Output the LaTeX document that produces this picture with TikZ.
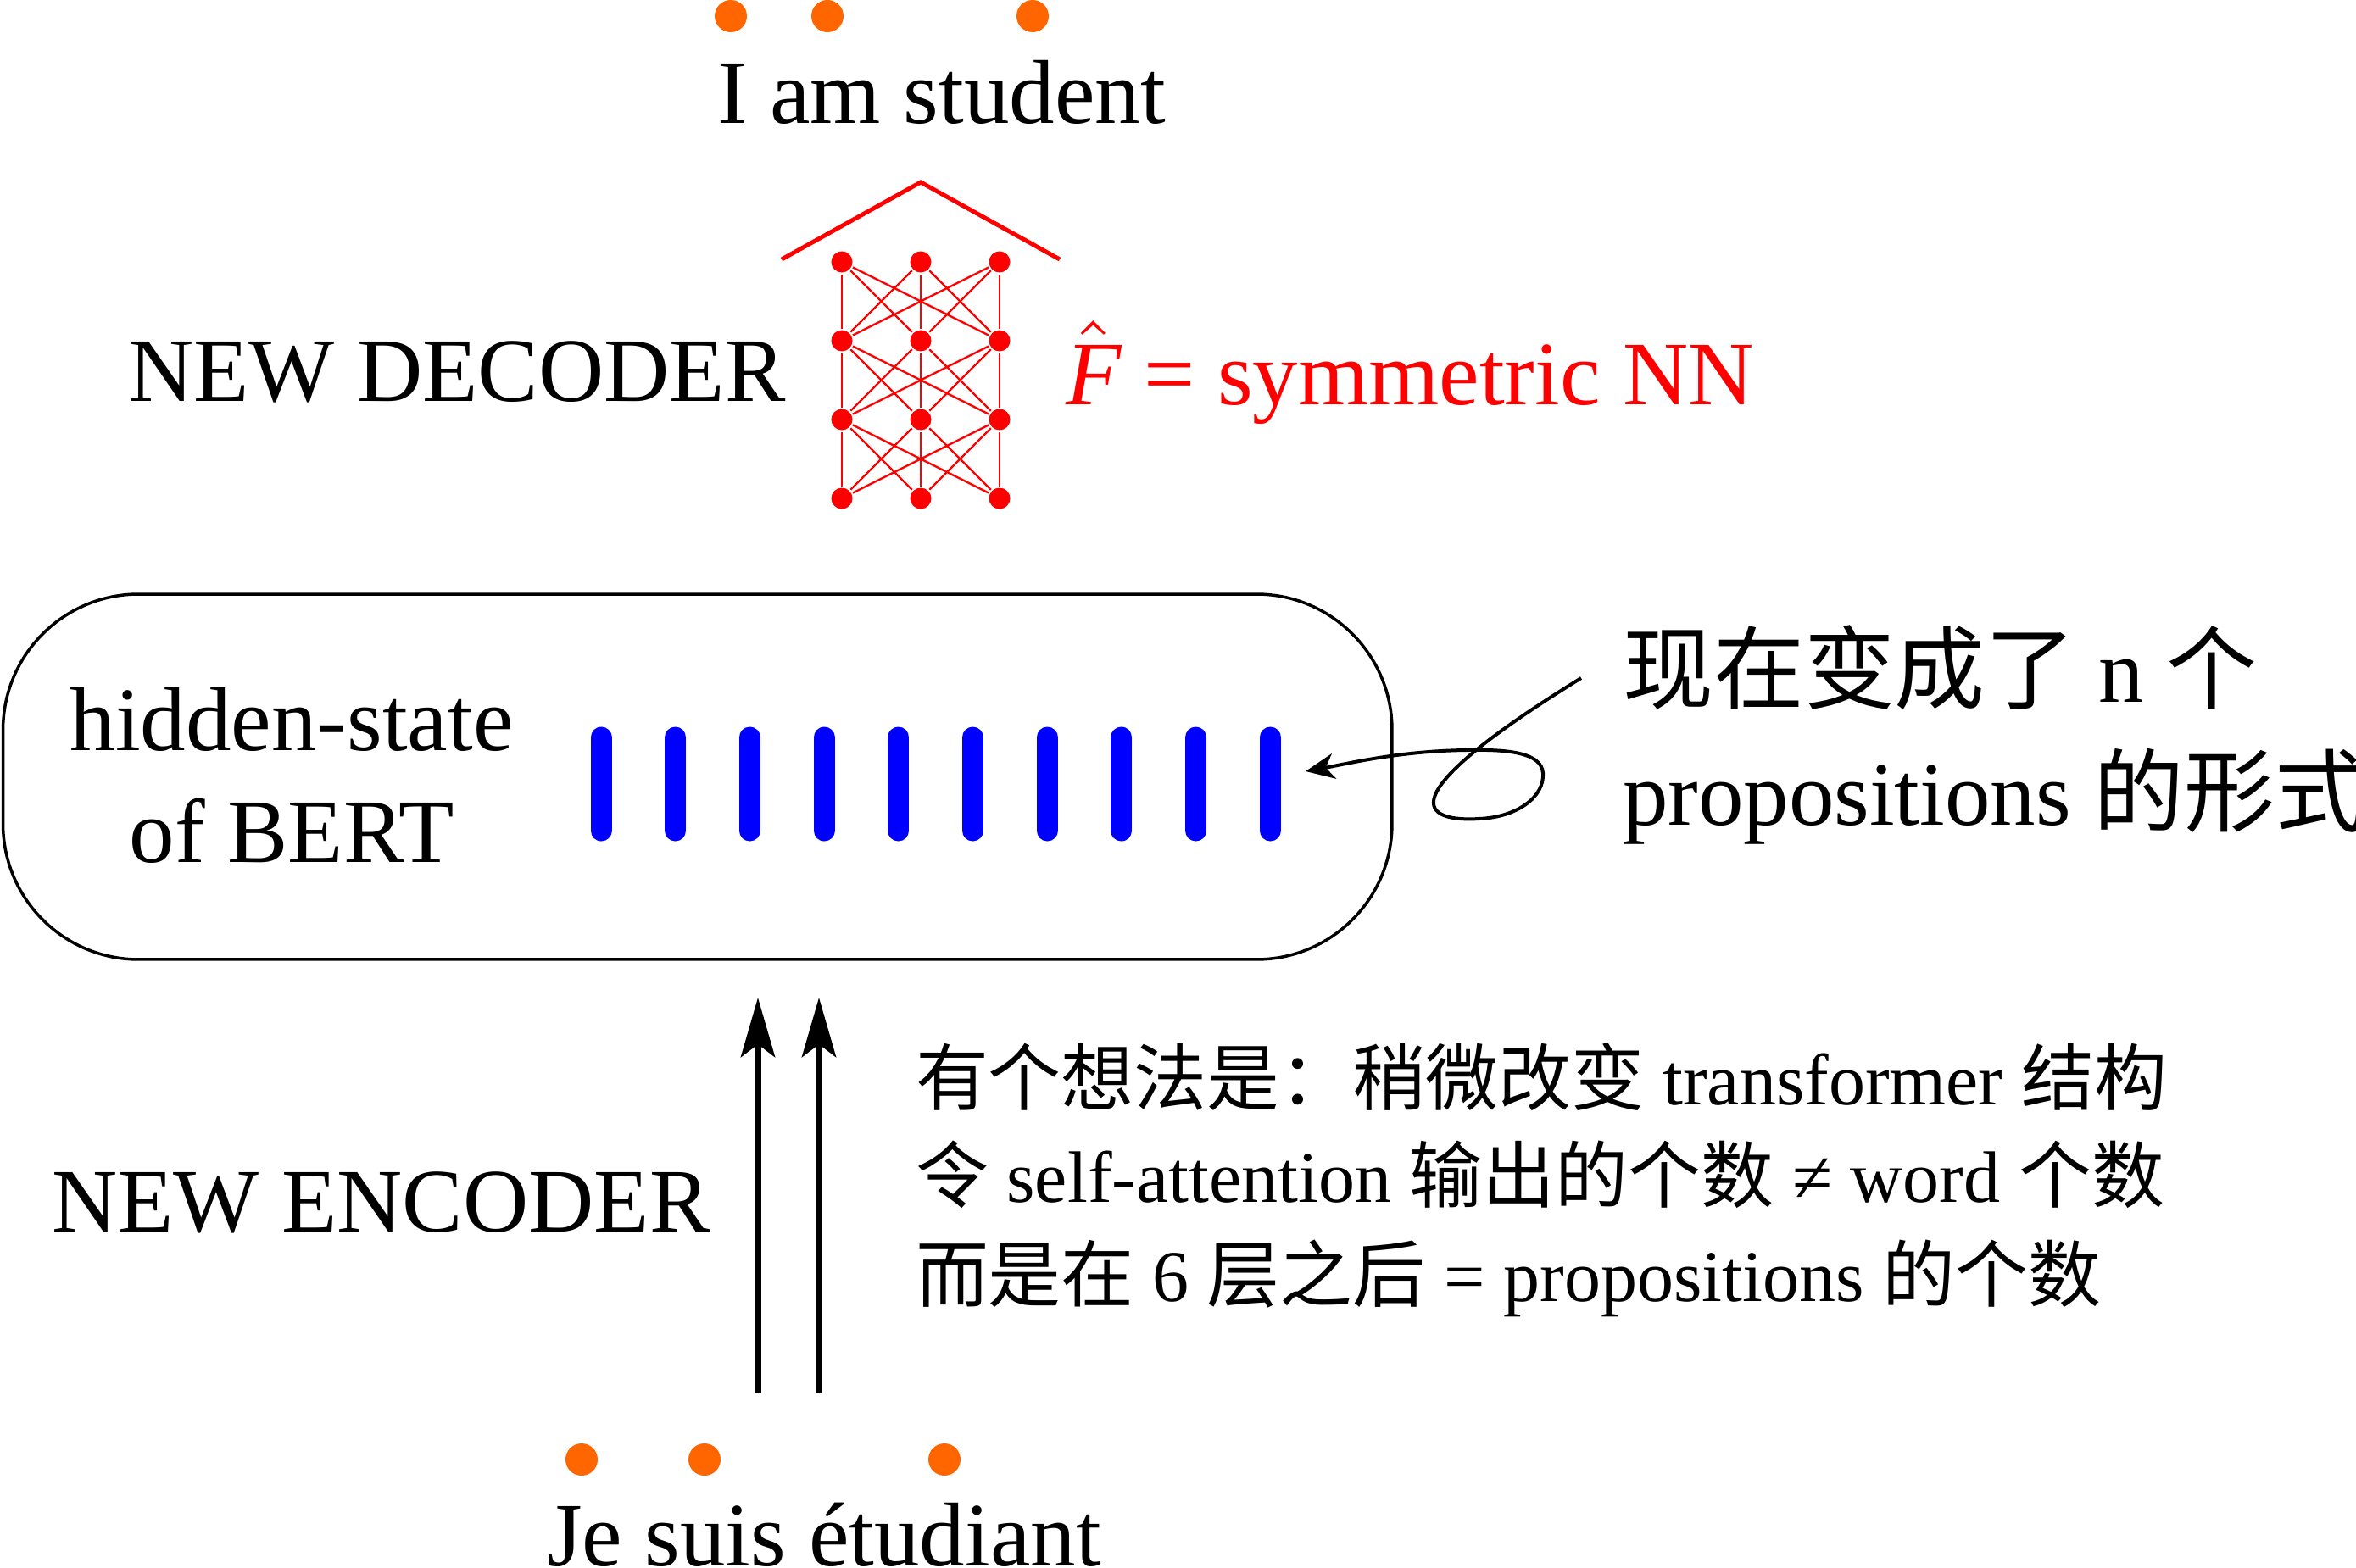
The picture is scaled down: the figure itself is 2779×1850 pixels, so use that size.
\documentclass[tikz,border=0pt]{standalone}
\usepackage{fontspec}
\setmainfont{Liberation Serif}
\newfontfamily\cjk{Noto Sans CJK SC}
\usetikzlibrary{arrows.meta}
\definecolor{dotorange}{RGB}{255,102,0}
\begin{document}
\begin{tikzpicture}[x=0.1pt,y=-0.1pt,
  txt/.style={inner sep=0pt, font=\fontsize{10.7pt}{13pt}\selectfont},
  smalltxt/.style={inner sep=0pt, font=\fontsize{8.6pt}{11pt}\selectfont},
  tokdot/.style={circle, fill=dotorange, inner sep=0pt, minimum size=3.8pt},
  nnode/.style={circle, fill=red, inner sep=0pt, minimum size=2.5pt},
  nnedge/.style={red, line width=0.23pt},
  hbar/.style={blue, line width=2.5pt, line cap=round},
  uparrow/.style={line width=0.8pt, -{Stealth[length=7pt,width=4pt,inset=1.5pt]}},
  curlarrow/.style={line width=0.4pt, -{Stealth[length=3.4pt,width=3pt,inset=1pt]}},
]
\useasboundingbox (0,0) rectangle (2779,1850);

% top output tokens
\node[tokdot] (o1) at (862,19) {};
\node[tokdot] (o2) at (976,19) {};
\node[tokdot] (o3) at (1218,19) {};
\node[txt, anchor=base west] (out) at (844,145) {I am student};

% decoder network
\foreach \r/\yy in {1/309,2/402,3/495,4/588}
  \foreach \c/\xx in {1/993,2/1086,3/1179}
    \node[nnode] (n\r\c) at (\xx,\yy) {};
\foreach \r/\s in {1/2,2/3,3/4}
  \foreach \a in {1,2,3}
    \foreach \b in {1,2,3}
      \draw[nnedge] (n\r\a) -- (n\s\b);
\coordinate (roofL) at (922,306);
\coordinate (roofT) at (1086,215);
\coordinate (roofR) at (1250,306);
\draw[red, line width=0.5pt] (roofL) -- (roofT) -- (roofR);

\node[txt, anchor=base west] (dec) at (149,473) {NEW DECODER};
\node[txt, red, anchor=base west] (fhat) at (1255,477) {$\hat{\mbox{\itshape F}}$ = symmetric NN};

% BERT hidden state box
\node[draw, line width=0.35pt, rounded corners=16pt, minimum width=163.85pt,
      minimum height=43.1pt, inner sep=0pt] (box) at (822.75,916.5) {};
\node[txt, anchor=base] (hs1) at (344,885) {hidden-state};
\node[txt, anchor=base] (hs2) at (344,1017) {of BERT};
\foreach \i in {0,...,9}
  \draw[hbar] ({709+87.7*\i},870) -- ({709+87.7*\i},980);

% curly annotation arrow
\coordinate (cs) at (1865,800);
\coordinate (ct) at (1540,910);
\draw[curlarrow] (cs) .. controls (1630,945) and (1680,970) .. (1745,966)
  .. controls (1790,964) and (1822,940) .. (1820,912)
  .. controls (1818,888) and (1780,884) .. (1730,885)
  .. controls (1650,886) and (1590,901) .. (ct);
\node[txt, anchor=base west] (r1) at (1912,828) {{\cjk 现在变成了} n {\cjk 个}};
\node[txt, anchor=base west] (r2) at (1912,973) {propositions {\cjk 的形式}};

% encoder arrows
\coordinate (a1s) at (894,1644);
\coordinate (a1e) at (894,1177);
\coordinate (a2s) at (966,1644);
\coordinate (a2e) at (966,1177);
\draw[uparrow] (a1s) -- (a1e);
\draw[uparrow] (a2s) -- (a2e);
\node[txt, anchor=base west] (enc) at (60,1453) {NEW ENCODER};

\node[smalltxt, anchor=base west] (l1) at (1078,1303) {{\cjk 有个想法是：稍微改变} transformer {\cjk 结构}};
\node[smalltxt, anchor=base west] (l2) at (1078,1418) {{\cjk 令} self-attention {\cjk 输出的个数} ≠ word {\cjk 个数}};
\node[smalltxt, anchor=base west] (l3) at (1078,1535) {{\cjk 而是在} 6 {\cjk 层之后} = propositions {\cjk 的个数}};

% input tokens
\node[tokdot] (i1) at (686,1722) {};
\node[tokdot] (i2) at (831,1722) {};
\node[tokdot] (i3) at (1114,1722) {};
\node[txt, anchor=base west] (src) at (643,1847) {Je suis étudiant};
\end{tikzpicture}
\end{document}
